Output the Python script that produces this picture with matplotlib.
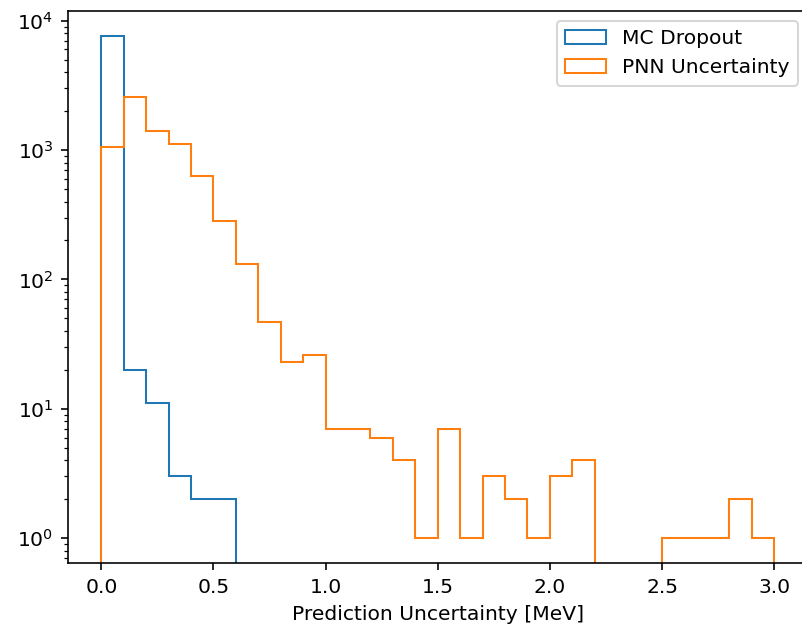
import numpy as np
import matplotlib
matplotlib.use("Agg")
import matplotlib.pyplot as plt

# Bin edges: 0.0 to 3.0 in steps of 0.1
bin_edges = np.round(np.arange(0, 3.01, 0.1), 2)

mc_dropout_counts = [7600, 20, 11, 3, 2, 2, 0, 0, 0, 0,
                     0, 0, 0, 0, 0, 0, 0, 0, 0, 0,
                     0, 0, 0, 0, 0, 0, 0, 0, 0, 0]

pnn_counts = [1050, 2550, 1410, 1110, 630, 285, 132, 47, 23, 26,
              7, 7, 6, 4, 1, 7, 1, 3, 2, 1,
              3, 4, 0, 0, 0, 1, 1, 1, 2, 1]

series_labels = ["MC Dropout", "PNN Uncertainty"]
x_label = "Prediction Uncertainty [MeV]"

dpi = 146
fig = plt.figure(figsize=(802 / dpi, 625 / dpi), dpi=dpi)
ax = fig.add_axes([0.0844, 0.0987, 0.9229, 0.8837])

centers = (bin_edges[:-1] + bin_edges[1:]) / 2
ax.hist(centers, bins=bin_edges, weights=mc_dropout_counts, histtype="step",
        log=True, label=series_labels[0], color="C0")
ax.hist(centers, bins=bin_edges, weights=pnn_counts, histtype="step",
        log=True, label=series_labels[1], color="C1")

ax.set_xlabel(x_label)
ax.legend(loc="upper right")

fig.savefig("out.png", dpi=dpi)
